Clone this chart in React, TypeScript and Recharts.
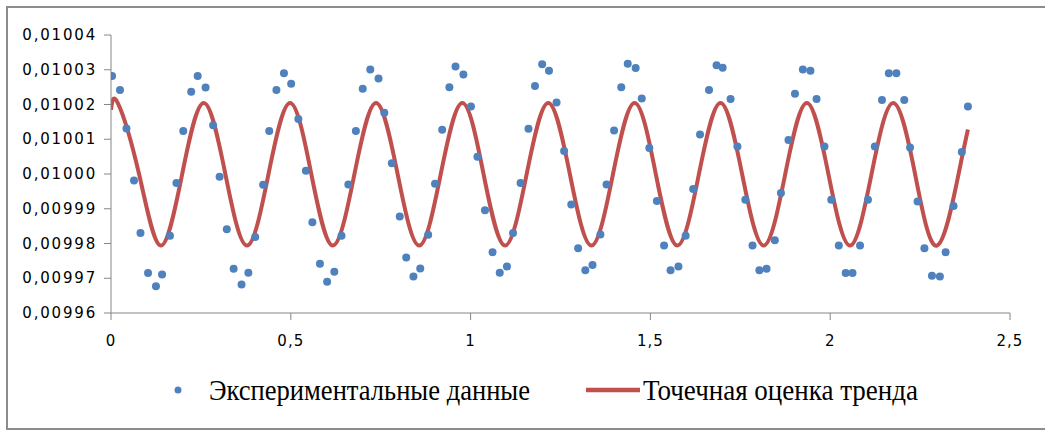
import React from 'react';
import { ComposedChart, Scatter, Line, XAxis, YAxis } from 'recharts';

const expX = [
  0.003, 0.025, 0.043, 0.064, 0.082, 0.103, 0.125, 0.142, 0.164, 0.182, 0.201, 0.223,
  0.241, 0.263, 0.284, 0.302, 0.322, 0.341, 0.363, 0.382, 0.401, 0.423, 0.44, 0.46,
  0.481, 0.501, 0.521, 0.542, 0.56, 0.581, 0.601, 0.621, 0.641, 0.66, 0.681, 0.7,
  0.721, 0.744, 0.76, 0.781, 0.803, 0.821, 0.841, 0.86, 0.882, 0.901, 0.921, 0.941,
  0.958, 0.98, 1.001, 1.019, 1.04, 1.061, 1.081, 1.101, 1.118, 1.139, 1.161, 1.179,
  1.199, 1.218, 1.239, 1.26, 1.28, 1.299, 1.319, 1.339, 1.361, 1.378, 1.399, 1.419,
  1.437, 1.459, 1.476, 1.497, 1.518, 1.538, 1.556, 1.578, 1.598, 1.619, 1.638, 1.663,
  1.684, 1.701, 1.723, 1.742, 1.764, 1.784, 1.803, 1.823, 1.846, 1.863, 1.884, 1.902,
  1.924, 1.945, 1.962, 1.984, 2.003, 2.024, 2.043, 2.062, 2.083, 2.105, 2.124, 2.144,
  2.163, 2.184, 2.206, 2.222, 2.243, 2.262, 2.283, 2.305, 2.321, 2.343, 2.366, 2.383,
];
const expY = [
  0.0100282, 0.0100242, 0.0100131, 0.0099981, 0.009983, 0.0099715, 0.0099677, 0.0099711, 0.0099822, 0.0099974, 0.0100124, 0.0100237,
  0.0100282, 0.0100249, 0.010014, 0.0099992, 0.0099841, 0.0099727, 0.0099682, 0.0099716, 0.0099819, 0.0099969, 0.0100124, 0.0100242,
  0.010029, 0.010026, 0.0100158, 0.0100009, 0.0099861, 0.0099742, 0.009969, 0.0099719, 0.0099822, 0.009997, 0.0100124, 0.0100245,
  0.0100301, 0.0100275, 0.0100176, 0.0100031, 0.0099878, 0.009976, 0.0099705, 0.0099728, 0.0099825, 0.0099972, 0.0100127, 0.010025,
  0.0100309, 0.0100286, 0.0100194, 0.010005, 0.0099896, 0.0099775, 0.0099716, 0.0099734, 0.009983, 0.0099974, 0.010013, 0.0100253,
  0.0100316, 0.0100297, 0.0100206, 0.0100066, 0.0099912, 0.0099786, 0.0099723, 0.0099738, 0.0099826, 0.009997, 0.0100125, 0.010025,
  0.0100317, 0.0100305, 0.0100217, 0.0100075, 0.0099922, 0.0099794, 0.0099723, 0.0099734, 0.0099822, 0.0099957, 0.0100114, 0.0100242,
  0.0100313, 0.0100306, 0.0100216, 0.0100079, 0.0099926, 0.0099794, 0.0099723, 0.0099727, 0.0099809, 0.0099945, 0.0100098, 0.0100231,
  0.0100301, 0.0100297, 0.0100216, 0.0100079, 0.0099926, 0.0099794, 0.0099715, 0.0099715, 0.0099794, 0.0099926, 0.0100079, 0.0100213,
  0.010029, 0.010029, 0.0100213, 0.0100076, 0.0099921, 0.0099786, 0.0099707, 0.0099705, 0.0099775, 0.0099908, 0.0100063, 0.0100194,
];

// trend curve: peaks, troughs and midline crossings
const trendX = [
  0, 0.019, 0.078, 0.138, 0.198, 0.258, 0.318, 0.378, 0.438, 0.498, 0.557, 0.617,
  0.677, 0.737, 0.797, 0.857, 0.917, 0.977, 1.036, 1.096, 1.156, 1.216, 1.276, 1.336,
  1.396, 1.456, 1.515, 1.575, 1.635, 1.695, 1.755, 1.815, 1.875, 1.935, 1.995, 2.055,
  2.115, 2.175, 2.236, 2.297, 2.357, 2.383,
];
const trendY = [
  0.0100185, 0.0100204, 0.01, 0.0099794, 0.01, 0.0100204, 0.01, 0.0099794, 0.01, 0.0100204, 0.01, 0.0099794,
  0.01, 0.0100204, 0.01, 0.0099794, 0.01, 0.0100204, 0.01, 0.0099794, 0.01, 0.0100204, 0.01, 0.0099794,
  0.01, 0.0100204, 0.01, 0.0099794, 0.01, 0.0100204, 0.01, 0.0099794, 0.01, 0.0100204, 0.01, 0.0099794,
  0.01, 0.0100204, 0.01, 0.0099794, 0.01, 0.0100128,
];

const xTicks = [0, 0.5, 1, 1.5, 2, 2.5];
const yTicks = [0.00996, 0.00997, 0.00998, 0.00999, 0.01, 0.01001, 0.01002, 0.01003, 0.01004];

const seriesNames = ['Экспериментальные данные', 'Точечная оценка тренда'];

const expData = expX.map((x, i) => ({ x, y: expY[i] }));
const trendData = trendX.map((x, i) => ({ x, y: trendY[i] }));

const AXIS = '#868686';
const BLUE = '#4f81bd';
const RED = '#c0504d';
const TICK_FONT = "'DejaVu Sans', Verdana, sans-serif";
const LEGEND_FONT = "'Liberation Serif', 'Times New Roman', serif";

const YTick = ({ x, y, payload }: any) => (
  <text
    x={x - 5}
    y={y}
    textAnchor="end"
    dominantBaseline="central"
    fontFamily={TICK_FONT}
    fontSize={15}
    letterSpacing={1.8}
    fill="#000"
  >
    {payload.value.toFixed(5).replace('.', ',')}
  </text>
);

const XTick = ({ x, y, payload }: any) => (
  <text
    x={x}
    y={y + 19}
    textAnchor="middle"
    dominantBaseline="central"
    fontFamily={TICK_FONT}
    fontSize={15}
    letterSpacing={1}
    fill="#000"
  >
    {String(payload.value).replace('.', ',')}
  </text>
);

const App: React.FC = () => {
  return (
    <div style={{ position: 'absolute', left: 0, top: 0, width: 1045, height: 430, background: '#fff', overflow: 'hidden' }}>
      <div style={{ position: 'absolute', left: 6, top: 6, width: 1060, height: 424, boxSizing: 'border-box', border: '2px solid #8c8c8c' }} />
      <div style={{ position: 'absolute', left: 0, top: 0 }}>
        <ComposedChart width={1045} height={430} margin={{ top: 35, right: 35, bottom: 77, left: 0 }}>
          <XAxis
            type="number"
            dataKey="x"
            domain={[0, 2.5]}
            ticks={xTicks}
            allowDataOverflow
            height={40}
            stroke={AXIS}
            tickSize={7}
            tick={<XTick />}
          />
          <YAxis
            type="number"
            dataKey="y"
            domain={[0.00996, 0.01004]}
            ticks={yTicks}
            allowDataOverflow
            width={111}
            stroke={AXIS}
            tickSize={7}
            tick={<YTick />}
          />
          <Line
            data={trendData}
            dataKey="y"
            type="natural"
            stroke={RED}
            strokeWidth={4}
            dot={false}
            activeDot={false}
            isAnimationActive={false}
            name={seriesNames[1]}
          />
          <Scatter
            data={expData}
            dataKey="y"
            fill={BLUE}
            shape={(p: any) => <circle cx={p.cx} cy={p.cy} r={4} fill={BLUE} />}
            isAnimationActive={false}
            name={seriesNames[0]}
          />
        </ComposedChart>
      </div>
      <svg width={1045} height={430} style={{ position: 'absolute', left: 0, top: 0 }}>
        <circle cx={178} cy={390} r={3.5} fill={BLUE} />
        <text
          x={209}
          y={400}
          fontFamily={LEGEND_FONT}
          fontSize={29}
          textLength={321}
          lengthAdjust="spacingAndGlyphs"
          fill="#000"
        >
          {seriesNames[0]}
        </text>
        <line x1={586} y1={390} x2={640} y2={390} stroke={RED} strokeWidth={4.5} />
        <text
          x={643}
          y={400}
          fontFamily={LEGEND_FONT}
          fontSize={29}
          textLength={275}
          lengthAdjust="spacingAndGlyphs"
          fill="#000"
        >
          {seriesNames[1]}
        </text>
      </svg>
    </div>
  );
};

export default App;
